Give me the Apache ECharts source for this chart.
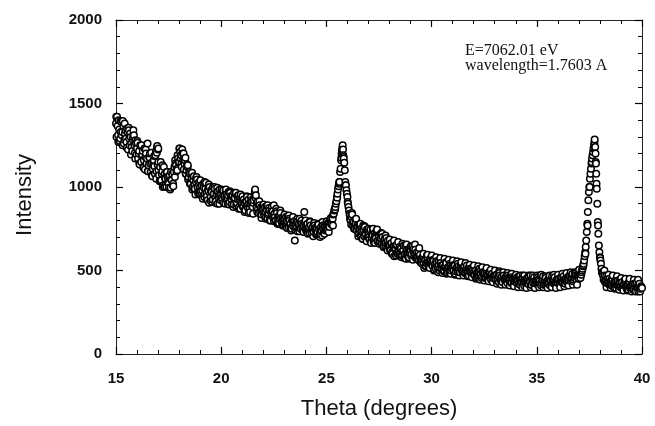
<!DOCTYPE html>
<html><head><meta charset="utf-8">
<script src="https://cdn.jsdelivr.net/npm/echarts@6/dist/echarts.min.js"></script>
<style>html,body{margin:0;padding:0;background:#fff}#c{width:655px;height:426px}</style>
</head><body><div id="c"></div>
<script>
// Scan A: theta from 15.000 deg in 0.05 deg steps
const thetaStartA = 15;
const thetaStepAB = 0.05;
const intensityA = [
1380,1420,1310,1345,1290,1390,1330,1365,1285,1340,
1270,1330,1355,1250,1300,1240,1285,1310,1205,1260,
1230,1170,1215,1250,1150,1195,1120,1230,1180,1140,
1260,1130,1175,1090,1145,1110,1160,1080,1215,1240,
1225,1070,1120,1040,1095,1010,1075,1050,1000,1060,
1020,1070,995,1040,1010,1090,1060,1130,1110,1170,
1150,1210,1190,1225,1160,1140,1175,1100,1120,1060,
1080,1020,1050,1000,1065,990,1030,1045,970,1010,
1000,950,980,1020,940,990,965,920,975,1000,
940,970,925,960,990,915,950,975,930,955,
960,925,980,940,900,955,935,970,910,945,
920,950,895,935,965,905,925,880,940,910,
930,880,905,860,915,890,925,870,900,910,
880,920,975,950,905,870,895,850,880,860,
870,830,850,885,815,845,860,800,840,855,
890,820,800,845,810,785,830,815,790,820,
810,770,795,825,760,800,780,750,805,785,
680,780,760,795,745,770,790,755,775,850,
760,735,780,750,725,770,745,760,730,755,
740,720,765,745,700,760,710,750,770,740,
765,740,780,760,795,775,810,840,870,900,
940,985,1020,1090,1160,1230,1190,1145,1030,980,
940,880,840,800,820,770,795,750,780,740,
760,720,745,700,735,770,705,725,690,740,
720,685,745,700,710,670,725,695,740,680,
705,670,690,720,655,680,640,695,660,645,
650,620,665,600,640,630,595,655,610,625,
600,635,590,620,580,645,605,590,625,610,
620,600,645,630,600,575,610,590,560,595,
570,540,585,515,560,545,575,535,555,560,
550,525,560,530,510,545,520,555,515,530,
510,535,500,525,545,505,520,490,530,515,
520,500,530,495,515,540,505,490,520,510,
500,525,490,510,480,515,495,505,475,500,
490,470,500,480,460,495,475,505,465,485,
470,455,490,465,445,480,460,475,440,470,
465,445,475,450,430,470,455,440,480,450,
445,465,425,455,440,470,430,450,420,445,
450,425,440,465,415,445,430,455,410,440,
430,455,420,440,470,415,435,445,410,440,
435,460,420,445,410,440,465,425,435,415,
440,420,455,430,410,445,435,460,420,430,
425,450,415,440,460,430,445,420,455,440,
450,470,440,460,480,445,455,470,440,465,
450,465,480,500,525,560,610,680,780,920,
1000,1080,1140,1190,1230,1285,1150,990,790,650,
580,540,490,470,455,430,465,440,420,450,
435,410,445,420,400,430,415,440,395,425,
410,430,395,420,440,400,415,385,425,405,
400,420,390,415,380,430,395,410,385,405,
395
];
// Scan B: theta from 15.025 deg in 0.05 deg steps
const thetaStartB = 15.025;
const intensityB = [
1300,1365,1400,1275,1330,1310,1395,1260,1320,1290,
1350,1225,1290,1320,1260,1215,1340,1250,1280,1195,
1265,1200,1135,1245,1185,1215,1160,1105,1200,1170,
1095,1180,1140,1205,1065,1150,1125,1190,1095,1135,
1100,1035,1150,1080,1000,1120,1055,1015,1090,1030,
1060,985,1045,1080,1005,1120,1140,1095,1190,1150,
1230,1170,1120,1200,1105,1160,1080,1135,1045,1090,
1030,1075,985,1040,1015,955,1060,1000,1025,960,
975,1010,930,995,960,1025,945,985,905,960,
980,910,955,1000,935,965,900,945,985,920,
935,975,905,950,985,920,950,895,965,930,
945,880,930,960,900,945,870,925,955,895,
885,925,865,910,940,875,900,850,920,885,
905,950,935,880,910,845,890,870,835,880,
845,880,820,860,835,875,805,850,830,815,
840,800,855,780,825,810,845,790,810,770,
785,820,755,790,810,770,740,800,765,795,
760,795,735,775,810,750,780,740,765,790,
745,775,720,760,790,735,755,705,770,745,
755,730,775,715,750,735,770,725,760,745,
750,785,765,800,780,820,835,860,880,915,
960,1005,1030,1110,1200,1250,1170,1100,1010,960,
900,860,810,775,835,790,760,805,750,770,
725,765,710,750,690,740,760,715,745,700,
700,735,665,715,750,690,705,730,675,710,
680,715,660,700,640,690,665,630,680,650,
625,660,610,645,585,635,650,600,620,640,
630,580,615,650,600,570,625,610,580,635,
590,640,615,585,625,595,570,605,585,550,
555,580,545,565,530,590,550,525,570,540,
535,565,505,540,555,520,535,500,545,520,
530,495,520,550,510,485,525,540,500,525,
505,535,480,515,500,525,490,530,505,485,
515,485,505,530,495,470,510,490,515,480,
475,500,460,490,470,510,480,455,490,475,
485,460,475,450,490,465,445,480,455,465,
450,475,440,465,485,445,460,430,470,445,
460,435,470,440,455,425,460,445,435,455,
435,460,420,450,430,445,470,425,445,420,
445,420,460,430,415,450,425,460,435,420,
420,445,430,470,425,450,415,440,455,430,
425,450,410,440,465,425,445,415,440,450,
445,420,455,435,425,465,440,450,430,460,
440,465,450,475,435,460,480,450,470,455,
470,455,490,510,540,585,640,730,850,970,
1050,1110,1170,1210,1255,1240,1080,900,720,610,
560,510,480,445,470,440,425,455,435,410,
420,450,405,430,440,395,425,410,435,400,
425,395,415,440,405,390,420,430,395,410,
410,385,420,395,415,400,375,420,390,400
];
// Scan C: theta from 15.0125 deg in 0.1 deg steps (edge readings of the band)
const thetaStartC = 15.0125;
const thetaStepC = 0.1;
const intensityC = [
1420,1270,1395,1250,1380,1235,1340,1195,1300,1170,
1275,1140,1250,1115,1225,1095,1200,1070,1185,1050,
1150,1040,1130,1005,1090,995,1090,1020,1160,1100,
1230,1140,1200,1080,1130,1020,1085,990,1055,960,
1040,940,1030,930,1015,915,1000,905,995,900,
985,905,980,900,975,895,965,885,950,870,
945,850,945,845,940,840,985,850,915,815,
895,810,890,800,880,795,870,780,860,770,
835,765,830,755,820,745,810,735,800,730,
800,730,795,720,785,715,780,715,790,720,
795,730,815,770,865,935,1030,1175,1180,1010,
910,830,845,750,810,705,780,690,765,675,
750,670,745,665,745,660,725,640,710,620,
685,600,680,590,670,585,660,575,655,570,
645,565,655,570,635,545,600,525,595,515,
590,500,580,490,575,485,570,480,565,480,
560,475,555,470,550,470,545,465,535,460,
530,450,525,445,520,440,515,435,505,430,
500,420,495,415,490,415,485,410,480,405,
475,400,470,400,470,395,470,400,470,395,
470,400,475,400,465,395,470,400,475,395,
475,400,480,405,485,410,490,415,490,415,
505,475,530,600,770,1000,1150,1235,1140,770,
575,485,500,400,475,395,470,390,465,385,
455,380,450,380,450,375,445,375,445,375
];
// A few extra readings: cluster near 17 deg and the two peak tops
const extraTheta = [16.94,16.96,17.01,25.74,25.79,37.71,37.74,37.79,37.84];
const extraIntensity = [1205,1245,1230,1215,1225,1240,1270,1200,1020];
const xTickLabels = [15,20,25,30,35,40];
const yTickLabels = [0,500,1000,1500,2000];
const annotationLines = ['E=7062.01 eV', 'wavelength=1.7603 A'];

const points = [];
intensityA.forEach((v, i) => points.push([+(thetaStartA + i * thetaStepAB).toFixed(4), v]));
intensityB.forEach((v, i) => points.push([+(thetaStartB + i * thetaStepAB).toFixed(4), v]));
intensityC.forEach((v, i) => points.push([+(thetaStartC + i * thetaStepC).toFixed(4), v]));
extraTheta.forEach((t, i) => points.push([t, extraIntensity[i]]));
points.sort((a, b) => a[0] - b[0]);

const frameColor = '#222';
function axisBase(ticks) {
  return {
    type: 'value',
    min: ticks[0], max: ticks[ticks.length - 1], interval: ticks[1] - ticks[0],
    axisLine: { show: true, onZero: false, lineStyle: { color: frameColor, width: 1 } },
    axisTick: { show: true, inside: true, length: 7, lineStyle: { color: '#000', width: 1.2 } },
    minorTick: { show: true, splitNumber: 5, length: 4, lineStyle: { color: '#000', width: 1 } },
    splitLine: { show: false }, minorSplitLine: { show: false }
  };
}
const labelStyle = { fontSize: 15, fontWeight: 'bold', color: '#111', fontFamily: 'Liberation Sans, Arial, sans-serif', formatter: v => String(v) };
const chart = echarts.init(document.getElementById('c'), null, { renderer: 'canvas' });
chart.setOption({
  animation: false,
  backgroundColor: '#fff',
  grid: { left: 116, right: 13, top: 20, bottom: 72, containLabel: false },
  xAxis: [
    Object.assign(axisBase(xTickLabels), {
      position: 'bottom',
      axisLabel: Object.assign({ margin: 17 }, labelStyle),
      name: 'Theta (degrees)', nameLocation: 'middle', nameGap: 44,
      nameTextStyle: { fontSize: 22, color: '#111', fontFamily: 'Liberation Sans, Arial, sans-serif' }
    }),
    Object.assign(axisBase(xTickLabels), { position: 'top', axisLabel: { show: false } })
  ],
  yAxis: [
    Object.assign(axisBase(yTickLabels), {
      position: 'left',
      axisLabel: Object.assign({ margin: 14 }, labelStyle),
      name: 'Intensity', nameLocation: 'middle', nameGap: 80,
      nameTextStyle: { fontSize: 22, color: '#111', fontFamily: 'Liberation Sans, Arial, sans-serif', padding: [0, 16, 0, 0] }
    }),
    Object.assign(axisBase(yTickLabels), { position: 'right', axisLabel: { show: false } })
  ],
  graphic: [{
    type: 'text', left: 465, top: 43,
    style: { text: annotationLines.join('\n'), font: '16px "Liberation Serif", "Times New Roman", serif', lineHeight: 15, fill: '#111' }
  }],
  series: [{
    type: 'scatter', xAxisIndex: 0, yAxisIndex: 0,
    data: points, symbol: 'circle', symbolSize: 6.5,
    itemStyle: { color: '#fff', borderColor: '#000', borderWidth: 1.5, opacity: 1 },
    emphasis: { disabled: true }
  }]
});
</script></body></html>
